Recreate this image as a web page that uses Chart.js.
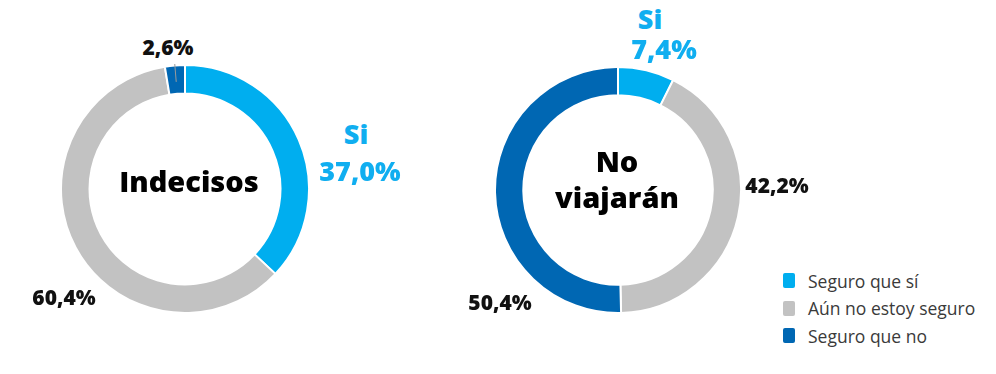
<!DOCTYPE html>
<html>
<head>
<meta charset="utf-8">
<script src="https://cdn.jsdelivr.net/npm/chart.js@4.4.1/dist/chart.umd.min.js"></script>
<style>
  html,body{margin:0;padding:0;background:#fff;}
  #wrap{position:relative;width:996px;height:374px;overflow:hidden;font-family:"Open Sans",sans-serif;}
  canvas{position:absolute;}
  .lbl{position:absolute;transform:translate(-50%,-50%);font-weight:800;white-space:nowrap;line-height:1;}
  .blue{color:#10aef0;font-size:27px;}
  .blk{color:#111;font-size:21px;}
  .center{color:#000;font-size:29px;text-align:center;line-height:36px;}
  #legend{position:absolute;left:783px;top:267px;font-size:17.5px;color:#3a3a3a;}
  #legend div{height:27.5px;display:flex;align-items:center;}
  #legend span.sw{display:inline-block;width:12px;height:15px;margin-right:13px;border-radius:2px;}
</style>
</head>
<body>
<div id="wrap">
  <canvas id="c1" width="250" height="250" style="left:60px;top:64px"></canvas>
  <canvas id="c2" width="248" height="248" style="left:494px;top:66px"></canvas>
  <div class="lbl center" style="left:189px;top:181px">Indecisos</div>
  <div class="lbl center" style="left:617px;top:179px">No<br>viajarán</div>
  <div class="lbl blue" style="left:356px;top:133px">Si</div>
  <div class="lbl blue" id="l1a" style="left:360px;top:170px"></div>
  <div class="lbl blk" id="l1b" style="left:64px;top:297px"></div>
  <div class="lbl blk" id="l1c" style="left:168px;top:47px"></div>
  <div class="lbl blue" style="left:650px;top:18px">Si</div>
  <div class="lbl blue" id="l2a" style="left:664px;top:48px"></div>
  <div class="lbl blk" id="l2b" style="left:777px;top:185px"></div>
  <div class="lbl blk" id="l2c" style="left:500px;top:302px"></div>
  <div id="legend"></div>
</div>
<script>
const categories = ['Seguro que sí', 'Aún no estoy seguro', 'Seguro que no'];
const indecisosValues = [37.0, 60.4, 2.6];
const noViajaranValues = [7.4, 42.2, 50.4];
const colors = ['#00aeef', '#c2c2c2', '#0067b3'];

const fmt = v => v.toFixed(1).replace('.', ',') + '%';
document.getElementById('l1a').textContent = fmt(indecisosValues[0]);
document.getElementById('l1b').textContent = fmt(indecisosValues[1]);
document.getElementById('l1c').textContent = fmt(indecisosValues[2]);
document.getElementById('l2a').textContent = fmt(noViajaranValues[0]);
document.getElementById('l2b').textContent = fmt(noViajaranValues[1]);
document.getElementById('l2c').textContent = fmt(noViajaranValues[2]);

const leg = document.getElementById('legend');
categories.forEach((c, i) => {
  const d = document.createElement('div');
  d.innerHTML = '<span class="sw" style="background:' + colors[i] + '"></span>' + c;
  leg.appendChild(d);
});

const leader = {
  id: 'leader',
  afterDatasetsDraw(chart, args, opts) {
    if (!opts.index && opts.index !== 0) return;
    const arc = chart.getDatasetMeta(0).data[opts.index];
    const mid = (arc.startAngle + arc.endAngle) / 2;
    const ctx = chart.ctx;
    ctx.save();
    ctx.strokeStyle = '#9a9a9a';
    ctx.lineWidth = 1;
    ctx.beginPath();
    ctx.moveTo(arc.x + Math.cos(mid) * (arc.innerRadius + 12), arc.y + Math.sin(mid) * (arc.innerRadius + 12));
    ctx.lineTo(arc.x + Math.cos(mid) * (arc.outerRadius + 6), arc.y + Math.sin(mid) * (arc.outerRadius + 6));
    ctx.stroke();
    ctx.restore();
  }
};

function makeChart(id, values, cut, leaderIndex) {
  return new Chart(document.getElementById(id), {
    type: 'doughnut',
    data: {
      labels: categories,
      datasets: [{
        data: values,
        backgroundColor: colors,
        borderColor: '#ffffff',
        borderWidth: 2
      }]
    },
    options: {
      responsive: false,
      animation: false,
      cutout: cut,
      layout: { padding: 0 },
      plugins: {
        legend: { display: false },
        tooltip: { enabled: false },
        leader: { index: leaderIndex }
      }
    },
    plugins: [leader]
  });
}

makeChart('c1', indecisosValues, '77%', 2);
makeChart('c2', noViajaranValues, '77%', null);
</script>
</body>
</html>
